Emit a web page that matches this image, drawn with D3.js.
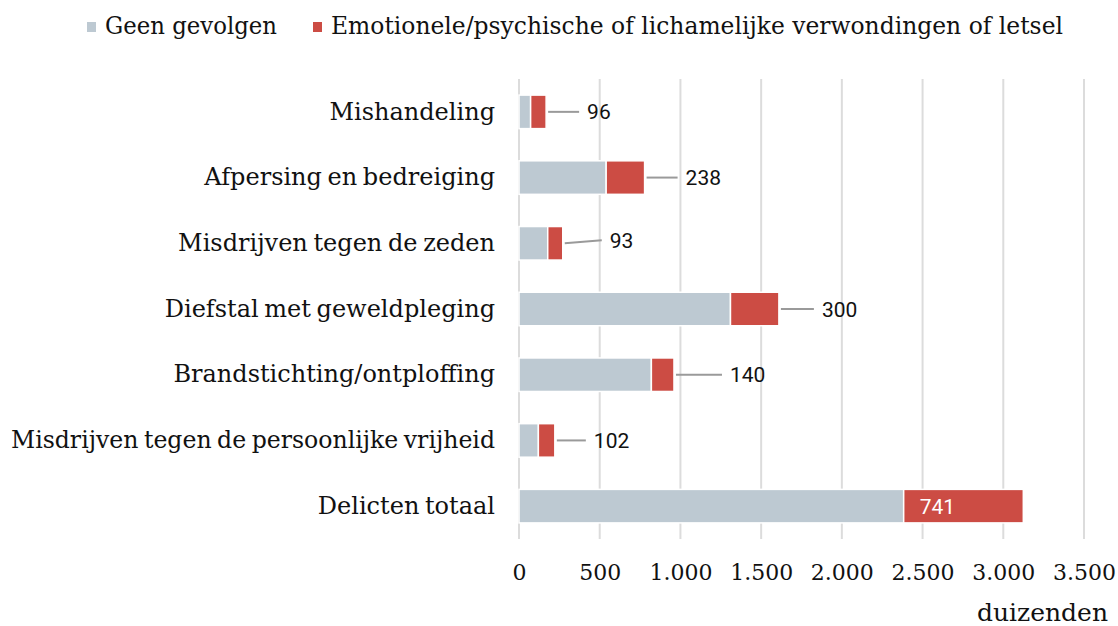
<!DOCTYPE html>
<html>
<head>
<meta charset="utf-8">
<script src="https://cdn.jsdelivr.net/npm/d3@7"></script>
<style>
  html, body { margin: 0; padding: 0; background: #fff; }
  svg { display: block; }
</style>
</head>
<body>
<svg id="chart" width="1118" height="626"></svg>
<script>
// ---- data ----
const categories = [
  "Mishandeling",
  "Afpersing en bedreiging",
  "Misdrijven tegen de zeden",
  "Diefstal met geweldpleging",
  "Brandstichting/ontploffing",
  "Misdrijven tegen de persoonlijke vrijheid",
  "Delicten totaal"
];
const geenGevolgen = [72, 540, 178, 1310, 820, 120, 2383];
const letsel = [96, 238, 93, 300, 140, 102, 741];
const seriesNames = ["Geen gevolgen", "Emotionele/psychische of lichamelijke verwondingen of letsel"];
const xTicks = [0, 500, 1000, 1500, 2000, 2500, 3000, 3500];
const unitLabel = "duizenden";

// ---- layout ----
const colors = ["#bdc9d2", "#cc4c44"];
const serif = "'DejaVu Serif', serif";
const sans = "Roboto, sans-serif";
const labelGap = [41, 41, 47, 43, 56, 39, 0];
const labelDy = [0, 0, -3, 0, 0, 0, 0];

const svg = d3.select("#chart");
const x = d3.scaleLinear().domain([0, 3500]).range([519, 1084]);
const y = d3.scaleBand().domain(categories).range([79, 539]).paddingInner(0.49).paddingOuter(0.245);

const fmt = v => d3.format(",")(v).replace(/,/g, ".");

// gridlines
svg.append("g").selectAll("line").data(xTicks).join("line")
  .attr("x1", d => x(d)).attr("x2", d => x(d))
  .attr("y1", 79).attr("y2", 539)
  .attr("stroke", "#dcdcdc").attr("stroke-width", 2);

// x axis labels via d3 axis
const xAxis = d3.axisBottom(x).tickValues(xTicks).tickFormat(fmt).tickSize(0).tickPadding(0);
const ax = svg.append("g").attr("transform", "translate(0,563)").call(xAxis);
ax.select(".domain").remove();
ax.selectAll("text")
  .attr("font-family", serif).attr("font-size", 22).attr("fill", "#111")
  .attr("dy", "0.75em");

// stacked bars
const rows = categories.map((c, i) => ({ c, i, a: geenGevolgen[i], b: letsel[i] }));
const barG = svg.append("g");
barG.selectAll("rect.g").data(rows).join("rect")
  .attr("class", "g")
  .attr("x", d => x(0)).attr("y", d => y(d.c))
  .attr("width", d => x(d.a) - x(0)).attr("height", y.bandwidth())
  .attr("fill", colors[0]).attr("stroke", "#fff").attr("stroke-width", 1.5);
barG.selectAll("rect.r").data(rows).join("rect")
  .attr("class", "r")
  .attr("x", d => x(d.a)).attr("y", d => y(d.c))
  .attr("width", d => x(d.a + d.b) - x(d.a)).attr("height", y.bandwidth())
  .attr("fill", colors[1]).attr("stroke", "#fff").attr("stroke-width", 1.5);

// category labels
const catLabels = svg.append("g").selectAll("text").data(rows).join("text")
  .attr("x", 495).attr("y", d => y(d.c) + y.bandwidth() / 2)
  .attr("dy", "0.32em").attr("text-anchor", "end")
  .attr("font-family", serif).attr("font-size", 24).attr("fill", "#111")
  .attr("word-spacing", -2)
  .text(d => d.c);
catLabels.each(function() {
  const len = this.getComputedTextLength();
  const maxW = 484;
  if (len > maxW) {
    d3.select(this).attr("textLength", maxW).attr("lengthAdjust", "spacingAndGlyphs");
  }
});

// value labels
const outside = rows.filter(d => d.i < rows.length - 1);
const inside = rows.filter(d => d.i === rows.length - 1);
svg.append("g").selectAll("line").data(outside).join("line")
  .attr("x1", d => x(d.a + d.b) + 2)
  .attr("x2", d => x(d.a + d.b) + labelGap[d.i] - 8)
  .attr("y1", d => y(d.c) + y.bandwidth() / 2)
  .attr("y2", d => y(d.c) + y.bandwidth() / 2 + labelDy[d.i])
  .attr("stroke", "#9a9a9a").attr("stroke-width", 2);
svg.append("g").selectAll("text").data(outside).join("text")
  .attr("x", d => x(d.a + d.b) + labelGap[d.i])
  .attr("y", d => y(d.c) + y.bandwidth() / 2 + labelDy[d.i])
  .attr("dy", "0.36em")
  .attr("font-family", sans).attr("font-size", 21).attr("fill", "#111")
  .text(d => fmt(d.b));
svg.append("g").selectAll("text").data(inside).join("text")
  .attr("x", d => x(d.a) + 16)
  .attr("y", d => y(d.c) + y.bandwidth() / 2)
  .attr("dy", "0.36em")
  .attr("font-family", sans).attr("font-size", 21).attr("fill", "#fff")
  .text(d => fmt(d.b));

// unit label
svg.append("text").attr("x", 1108).attr("y", 621).attr("text-anchor", "end")
  .attr("font-family", serif).attr("font-size", 25).attr("fill", "#111")
  .text(unitLabel);

// legend
const legendX = [87, 313];
const legendW = [172, 732];
const lg = svg.append("g").selectAll("g").data(seriesNames).join("g");
lg.append("rect")
  .attr("x", (d, i) => legendX[i]).attr("y", 22).attr("width", 9).attr("height", 10)
  .attr("fill", (d, i) => colors[i]);
lg.append("text")
  .attr("x", (d, i) => legendX[i] + 18).attr("y", 34)
  .attr("font-family", serif).attr("font-size", 25).attr("fill", "#111")
  .attr("textLength", (d, i) => legendW[i]).attr("lengthAdjust", "spacingAndGlyphs")
  .text(d => d);
</script>
</body>
</html>
